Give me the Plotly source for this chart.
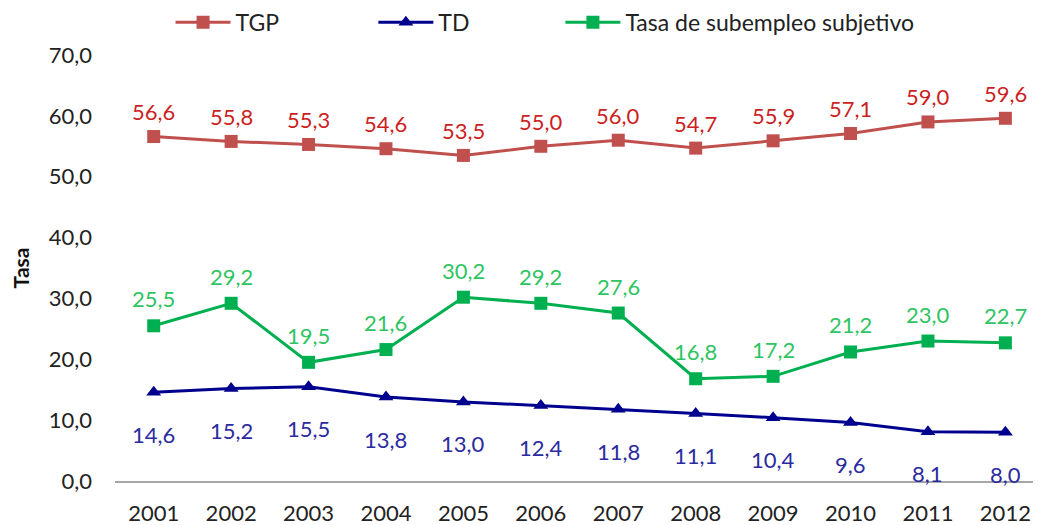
import plotly.graph_objects as go

# Datos
years = [2001, 2002, 2003, 2004, 2005, 2006, 2007, 2008, 2009, 2010, 2011, 2012]
tgp = [56.6, 55.8, 55.3, 54.6, 53.5, 55.0, 56.0, 54.7, 55.9, 57.1, 59.0, 59.6]
td = [14.6, 15.2, 15.5, 13.8, 13.0, 12.4, 11.8, 11.1, 10.4, 9.6, 8.1, 8.0]
subempleo = [25.5, 29.2, 19.5, 21.6, 30.2, 29.2, 27.6, 16.8, 17.2, 21.2, 23.0, 22.7]

font = "Lato, Calibri, sans-serif"

series = [
    # nombre, valores, color linea, color texto, simbolo, desplazamiento etiqueta, leyenda, x leyenda
    ("TGP", tgp, "#C0504D", "#CC1F1F", "square", 25, "legend", 0.060),
    ("TD", td, "#00008F", "#2B2BA0", "triangle-up", -42, "legend2", 0.279),
    ("Tasa de subempleo subjetivo", subempleo, "#00B050", "#2EC462", "square", 27, "legend3", 0.481),
]

fig = go.Figure()
annotations = []
legends = {}
for name, vals, lc, tc, sym, shift, leg, lx in series:
    fig.add_trace(go.Scatter(
        x=years, y=vals, name=name, mode="lines+markers",
        line=dict(color=lc, width=3),
        marker=dict(symbol=sym, size=13, color=lc),
        hoverinfo="skip", legend=leg,
    ))
    legends[leg] = dict(orientation="h", x=lx, y=1.077, xanchor="left", yanchor="middle",
                        itemwidth=55, bgcolor="rgba(0,0,0,0)",
                        font=dict(size=23, color="#222222"))
    for x, v in zip(years, vals):
        annotations.append(dict(
            x=x, y=v, text=f"{v:.1f}".replace(".", ","), showarrow=False,
            yshift=shift, font=dict(family=font, size=22, color=tc),
        ))

fig.update_layout(
    width=1033, height=517,
    paper_bgcolor="white", plot_bgcolor="white",
    separators=",.",
    font=dict(family=font, size=22, color="#222222"),
    margin=dict(l=107, r=0, t=47, b=44, autoexpand=False),
    showlegend=True,
    annotations=annotations,
    xaxis=dict(
        range=[2000.5, 2012.46], tickmode="array", tickvals=years,
        tickformat="d",
        showgrid=False, showline=True, linecolor="#A6A6A6", linewidth=1.5,
        zeroline=False, ticks="", ticklabelstandoff=12,
        tickfont=dict(size=22, color="#222222"),
    ),
    yaxis=dict(
        range=[0, 70], dtick=10, tickformat=".1f",
        showgrid=False, showline=False, zeroline=False,
        ticklabelstandoff=22,
        tickfont=dict(size=22, color="#222222"),
        title=dict(text="<b>Tasa</b>", font=dict(size=21, color="#111111"), standoff=16),
    ),
    **legends,
)

fig.write_html("out.html")
